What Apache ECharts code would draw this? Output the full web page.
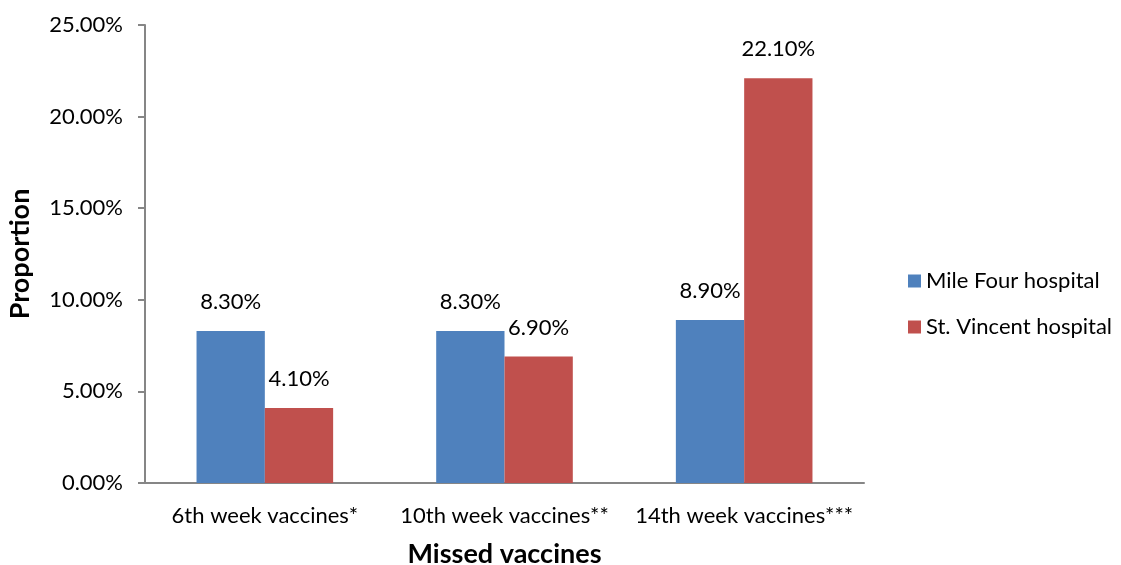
<!DOCTYPE html>
<html>
<head>
<meta charset="utf-8">
<script src="https://cdn.jsdelivr.net/npm/echarts@6/dist/echarts.min.js"></script>
<style>
  html, body { margin: 0; padding: 0; background: #ffffff; }
  #chart { width: 1121px; height: 565px; }
</style>
</head>
<body>
<div id="chart"></div>
<script>
var categories = ["6th week vaccines*", "10th week vaccines**", "14th week vaccines***"];
var mileFour = [8.3, 8.3, 8.9];
var stVincent = [4.1, 6.9, 22.1];
var seriesNames = ["Mile Four hospital", "St. Vincent hospital"];

var chart = echarts.init(document.getElementById("chart"));
var font = "Lato, 'Noto Sans', sans-serif";

function pct(v) {
  return v.toFixed(2) + "%";
}

chart.setOption({
  backgroundColor: "#ffffff",
  color: ["#4f81bd", "#c0504d"],
  textStyle: { fontFamily: font },
  grid: {
    left: 145,
    right: 257,
    top: 25,
    bottom: 82,
    outerBoundsMode: "none"
  },
  legend: {
    orient: "vertical",
    left: 903,
    top: 265,
    itemWidth: 13,
    itemHeight: 13,
    itemGap: 24,
    icon: "rect",
    textStyle: { fontSize: 22, color: "#000000", fontFamily: font },
    data: seriesNames
  },
  xAxis: {
    type: "category",
    data: categories,
    name: "Missed vaccines",
    nameLocation: "middle",
    nameGap: 58,
    nameTextStyle: { fontSize: 27, fontWeight: "bold", color: "#000000", fontFamily: font },
    axisLine: { lineStyle: { color: "#868686", width: 2 } },
    axisTick: { show: false },
    axisLabel: {
      fontSize: 22,
      color: "#000000",
      margin: 22,
      interval: 0,
      hideOverlap: false,
      fontFamily: font
    }
  },
  yAxis: {
    type: "value",
    min: 0,
    max: 25,
    interval: 5,
    name: "Proportion",
    nameLocation: "middle",
    nameGap: 111,
    nameTextStyle: { fontSize: 27, fontWeight: "bold", color: "#000000", fontFamily: font },
    axisLine: { show: true, lineStyle: { color: "#868686", width: 2 } },
    axisTick: { show: true, length: 7, lineStyle: { color: "#868686", width: 2 } },
    splitLine: { show: false },
    axisLabel: {
      fontSize: 22,
      color: "#000000",
      margin: 22,
      fontFamily: font,
      formatter: function (v) { return pct(v); }
    }
  },
  series: [
    {
      name: seriesNames[0],
      type: "bar",
      data: mileFour,
      barGap: "0%",
      barCategoryGap: "43%",
      label: {
        show: true,
        position: "top",
        distance: 18,
        fontSize: 22,
        color: "#000000",
        fontFamily: font,
        formatter: function (p) { return pct(p.value); }
      }
    },
    {
      name: seriesNames[1],
      type: "bar",
      data: stVincent,
      barGap: "0%",
      barCategoryGap: "43%",
      label: {
        show: true,
        position: "top",
        distance: 18,
        fontSize: 22,
        color: "#000000",
        fontFamily: font,
        formatter: function (p) { return pct(p.value); }
      }
    }
  ]
});
</script>
</body>
</html>
